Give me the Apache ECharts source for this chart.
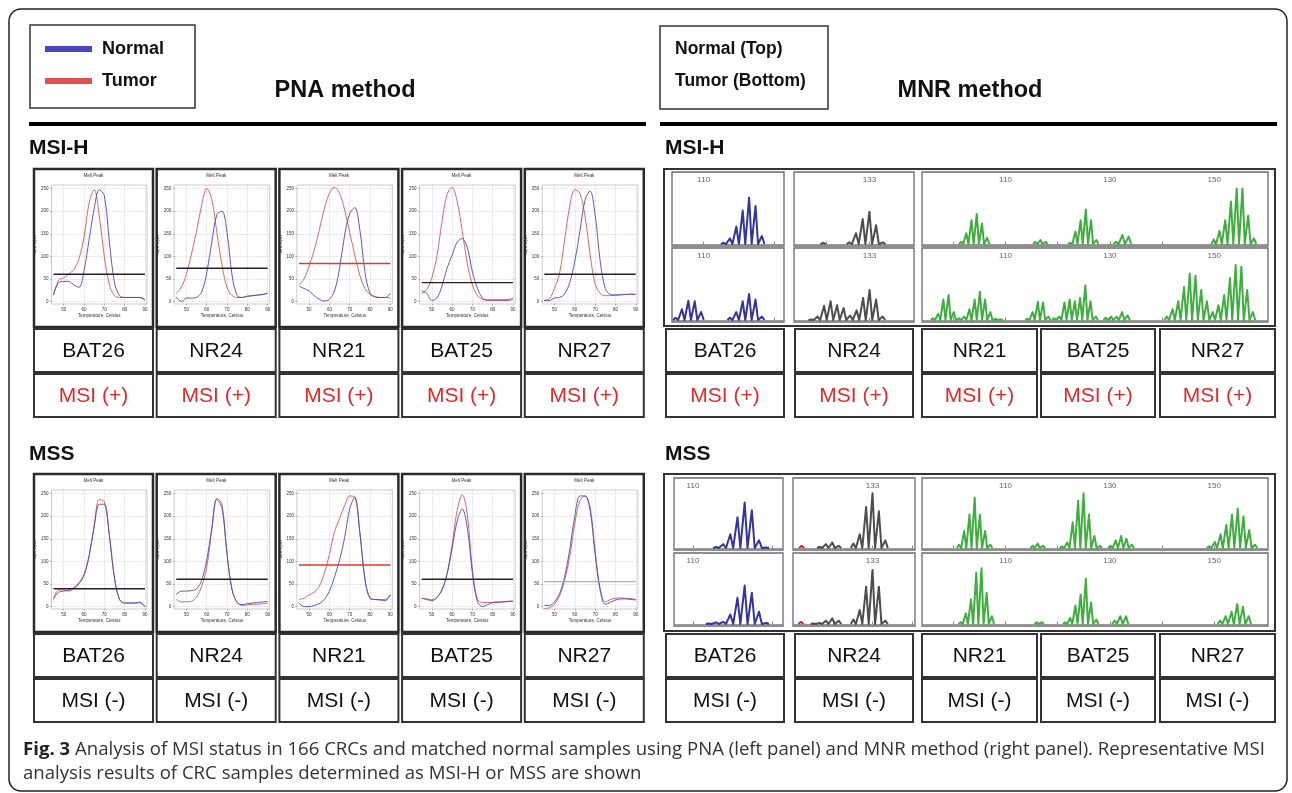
<!DOCTYPE html>
<html lang="en">
  <head>
    <meta charset="UTF-8" />
    <title>Fig. 3 MSI status</title>
    <style>
      html, body { margin: 0; padding: 0; background: #fff; }
      #main { width: 1292px; height: 793px; }
    </style>
  </head>
  <body>
    <div id="main"></div>
    <script src="https://cdn.jsdelivr.net/npm/echarts@6.0.0/dist/echarts.min.js"></script>
    <script>
      // ---------- data ----------
      const markers = ["BAT26", "NR24", "NR21", "BAT25", "NR27"];
      const msihStatus = "MSI (+)";
      const mssStatus = "MSI (-)";

      // PNA melt curves: temperature grid and -dF/dT (as % of plot height)
      const meltTemp = [45, 47.5, 50, 52.5, 55, 57.5, 60, 62.5, 65, 67.5, 70, 72.5, 75, 77.5, 80, 82.5, 85, 87.5, 90];
      const meltTempTicks = [50, 60, 70, 80, 90];
      const meltYTicks = [2, 21, 40, 59, 78, 97];
      const meltYLabels = ["0", "50", "100", "150", "200", "250"];

      const pnaMsihNormal = [
        [8, 18, 19, 19, 16, 14, 28, 54, 80, 96, 91, 52, 18, 7, 5.5, 5.5, 5.5, 5.5, 3],
        [6, 2, 5, 5, 5.6, 10, 26, 52, 75, 78, 60, 24, 7, 5.5, 6.5, 7, 7.5, 8, 9],
        [15, 13, 11, 7, 4, 2.5, 4, 11, 30, 58, 76, 81, 62, 27, 9, 6, 5.5, 5.5, 9],
        [11, 9, 3, 5, 15, 30, 41, 52, 55, 47, 27, 13, 5, 3.5, 3.5, 3.5, 3.5, 3.5, 5],
        [3, 3, 5, 5.5, 8.5, 18, 36, 61, 87, 95, 75, 36, 13, 8, 7.5, 7.7, 8, 8.3, 8]
      ];
      const pnaMsihTumor = [
        [7, 20, 22, 25, 29, 38, 56, 85, 96, 74, 40, 16, 7, 5.5, 5.5, 5.5, 5.5, 5.5, 4],
        [9, 14, 25, 42, 61, 83, 97, 88, 60, 33, 14, 7, 5.5, 5.5, 6.5, 7, 7.5, 8, 9],
        [16, 21, 32, 45, 62, 80, 93, 98, 93, 79, 60, 41, 24, 13, 8, 6, 5.5, 5.5, 5],
        [9, 12, 22, 40, 69, 92, 98, 86, 61, 34, 16, 7, 4, 3, 3, 3, 3, 3, 4],
        [3, 4.5, 13, 26, 54, 82, 96, 93, 74, 42, 17, 9, 7, 7, 7.5, 7.7, 8, 8.3, 8]
      ];
      const pnaMsihThreshold = [25, 30, 34, 18, 25];

      const pnaMssNormal = [
        [9, 14, 15, 16, 18, 22, 29, 45, 69, 88, 88, 61, 26, 8, 5, 5, 5, 5.5, 2],
        [12, 15, 15, 15.5, 17, 24, 41, 68, 92, 85, 46, 16, 5.5, 3.6, 4.5, 5, 5.5, 6, 6.3],
        [5, 2, 2, 3, 4.5, 8, 15, 27, 41, 60, 84, 94, 64, 25, 9, 8, 7.5, 7, 12],
        [9, 8, 7, 9.5, 16, 29, 51, 74, 84, 68, 30, 6, 2, 3.6, 5.5, 6, 6, 6.2, 6.3],
        [3, 3, 6, 13, 27, 50, 78, 95, 95, 83, 46, 15.5, 4, 5.6, 7.5, 8.5, 8.5, 8, 7.6]
      ];
      const pnaMssTumor = [
        [8, 16, 16, 15, 17, 21, 28, 44, 70, 92, 90, 62, 26, 8, 5, 5, 5, 5.5, 2],
        [8, 6, 6, 6.5, 10, 19, 35, 66, 93, 88, 46, 16, 5.5, 3, 3.5, 4, 4, 4.5, 5],
        [8, 9, 12, 14, 19, 30, 46, 65, 76, 87, 95, 94, 64, 25, 9, 8, 8, 8, 12],
        [9, 8.5, 8, 10, 16, 30, 54, 83, 96, 79, 33, 8, 5.5, 5.5, 5.5, 5.5, 6, 6.5, 7],
        [0.5, 1, 4, 11, 24, 44, 72, 91, 95, 86, 49, 17, 6, 8, 9, 9.3, 9, 8.7, 8]
      ];
      const pnaMssThreshold = [17, 25, 37, 25, 23];

      // MNR fragment analysis: axis ranges (size units), tick marks, labelled ticks
      const mnrRange = {
        msih: [[105.2, 122.4], [121.9, 139.5], [94.2, 160.1]],
        mss: [[107.5, 122.4], [120.7, 139.5], [94.2, 160.1]]
      };
      const mnrTicks = {
        msih: [[110, 121], [126.6, 133], [100, 110, 120, 130, 140, 150]],
        mss: [[110, 121], [126.8, 133, 139.3], [100, 110, 120, 130, 140, 150]]
      };
      const mnrTickLabels = {
        msih: [[110], [133], [110, 130, 150]],
        mss: [[110], [133], [110, 130, 150]]
      };

      // peak groups: [first position, spacing, heights in % of panel]
      const mnrMsihBat26 = {
        top: [[113.1, 1, [2, 10, 31, 59, 82, 67, 14]]],
        bottom: [[105.6, 1, [4, 19, 34, 33, 14]], [114.1, 1, [4, 14, 33, 46, 36, 6]]]
      };
      const mnrMsihNr24 = {
        top: [[126.1, 1, [2]], [130, 1, [3, 19, 44, 57, 33, 3]]],
        bottom: [[124.3, 0.97, [1, 6, 25, 33, 26, 21, 8, 17, 39, 53, 36, 6]]]
      };
      const mnrMsihPanel = {
        top: [[101.5, 1, [4, 19, 42, 53, 36, 11]], [115.7, 1, [4, 7, 4]], [122.4, 1, [2, 22, 42, 61, 42, 7]],
              [131.2, 1.2, [4, 16, 13]], [149.9, 1.1, [8, 23, 42, 75, 98, 98, 50, 10]]],
        bottom: [[96.1, 1, [3, 11, 36, 44, 14, 3, 6, 19, 36, 50, 36, 14, 2, 1]], [114.2, 1, [2, 14, 32, 31, 6]],
                 [119.3, 1, [3, 6, 31, 36, 33, 39, 61, 33, 6]], [129.2, 1.05, [4, 6, 6, 14, 8]],
                 [140.9, 1.1, [6, 19, 33, 58, 82, 78, 53, 33, 14, 26, 44, 74, 97, 94, 53, 14]]]
      };
      const mnrMssBat26 = {
        top: [[113.2, 1, [2, 7, 25, 56, 83, 69, 14, 1]]],
        bottom: [[112.2, 1, [1, 3, 4, 17, 47, 69, 56, 22, 2]]]
      };
      const mnrMssNr24 = {
        top: [[124.7, 1, [2, 7, 10, 4]], [130, 1, [8, 25, 75, 100, 67, 14]]],
        bottom: [[123.7, 1, [1, 2, 6, 10, 6]], [130, 1, [8, 25, 67, 97, 67, 6]]]
      };
      const mnrMssNr24Marker = { top: [[121.9, 1, [4]]], bottom: [[121.8, 1, [4]]] };
      const mnrMssPanel = {
        top: [[101.1, 1, [6, 31, 61, 92, 61, 31, 6]], [115.2, 1, [4, 8, 4]], [120.8, 1.04, [3, 10, 47, 86, 100, 61, 22, 4]],
              [130.1, 1.03, [4, 14, 22, 17, 6]], [149, 1.1, [3, 11, 25, 42, 61, 72, 58, 33, 6]]],
        bottom: [[101.4, 1, [3, 19, 44, 92, 100, 56, 14]], [115.95, 1, [3, 3]], [121.4, 1, [3, 11, 33, 53, 81, 39, 8]],
                 [130.9, 1.1, [6, 14, 14]], [151.1, 1.1, [6, 14, 22, 36, 31, 14]]]
      };

      // ---------- build ----------
      const myChart = echarts.init(document.getElementById("main"));
      const FONT = '"Liberation Sans", Arial, sans-serif';
      const BLUE = "#4747c2";
      const RED = "#e25151";
      const grids = [], xAxes = [], yAxes = [], series = [], graphics = [];

      function rect(x, y, w, h, stroke, lw, r) {
        graphics.push({ type: "rect", silent: true, z: 10,
          shape: { x: x, y: y, width: w, height: h, r: r || 0 },
          style: { fill: "rgba(0,0,0,0)", stroke: stroke, lineWidth: lw } });
      }
      function text(x, y, str, size, opt) {
        graphics.push({ type: "text", silent: true, z: 10, x: x, y: y,
          style: Object.assign({ text: str, fill: "#111", fontFamily: FONT, fontSize: size,
            align: "left", verticalAlign: "middle" }, opt || {}) });
      }
      function hline(x1, x2, y, lw) {
        graphics.push({ type: "line", silent: true, z: 10,
          shape: { x1: x1, y1: y, x2: x2, y2: y }, style: { stroke: "#000", lineWidth: lw } });
      }

      // frame, headers
      rect(9, 9, 1278, 782, "#222", 1.5, 12);
      rect(30, 25, 165, 83, "#333", 1.5);
      rect(660, 26, 168, 83, "#333", 1.5);
      text(675, 49, "Normal (Top)", 17.5, { fontWeight: "bold" });
      text(675, 81, "Tumor (Bottom)", 17.5, { fontWeight: "bold" });
      text(345, 91, "PNA method", 23.5, { fontWeight: "bold", align: "center" });
      text(970, 91, "MNR method", 23.5, { fontWeight: "bold", align: "center" });
      hline(29, 646, 124, 4);
      hline(660, 1277, 124, 4);
      text(29, 148, "MSI-H", 21, { fontWeight: "bold" });
      text(665, 148, "MSI-H", 21, { fontWeight: "bold" });
      text(29, 454, "MSS", 21, { fontWeight: "bold" });
      text(665, 454, "MSS", 21, { fontWeight: "bold" });

      // ---- PNA melt-peak panels ----
      function addMelt(row, i, normal, tumor, thr, thrColor) {
        const bx = 34 + i * 122.7, by = row ? 474 : 169, bw = 119, bh = 158;
        const gi = grids.length;
        grids.push({ left: bx + 17.5, top: by + 16, width: bw - 23.5, height: bh - 39,
          show: true, borderColor: "#aaa", borderWidth: 0.6 });
        xAxes.push({ gridIndex: gi, type: "value", min: 44, max: 91,
          name: "Temperature, Celsius", nameLocation: "middle", nameGap: 9,
          nameTextStyle: { fontSize: 4.5, color: "#333", fontFamily: FONT },
          axisLine: { show: false },
          axisTick: { customValues: meltTempTicks, length: 1.5, lineStyle: { color: "#666", width: 0.5 } },
          axisLabel: { customValues: meltTempTicks, fontSize: 4.5, margin: 3, color: "#333" },
          splitLine: { show: true, lineStyle: { type: "dashed", color: "#c8c8c8", width: 0.5 } } });
        yAxes.push({ gridIndex: gi, type: "value", min: 0, max: 100,
          name: "-d(RFU)/dT", nameLocation: "middle", nameGap: 11, nameRotate: 90,
          nameTextStyle: { fontSize: 4, color: "#333", fontFamily: FONT },
          axisLine: { show: false },
          axisTick: { customValues: meltYTicks, length: 1.5, lineStyle: { color: "#666", width: 0.5 } },
          axisLabel: { customValues: meltYTicks, fontSize: 4.5, margin: 3, color: "#333",
            formatter: function (v) { return meltYLabels[meltYTicks.indexOf(v)] || ""; } },
          splitLine: { show: true, lineStyle: { type: "dashed", color: "#c8c8c8", width: 0.5 } } });
        const common = { type: "line", xAxisIndex: gi, yAxisIndex: gi, smooth: 0.35, symbol: "none",
          silent: true, animation: false };
        series.push(Object.assign({}, common, { name: "Tumor", color: RED,
          lineStyle: { color: RED, width: 0.9 }, data: meltTemp.map((t, k) => [t, tumor[k]]) }));
        series.push(Object.assign({}, common, { name: "Normal", color: BLUE,
          lineStyle: { color: BLUE, width: 0.9 }, data: meltTemp.map((t, k) => [t, normal[k]]) }));
        series.push(Object.assign({}, common, { name: "threshold", smooth: false, color: thrColor,
          lineStyle: { color: thrColor, width: 1.4 }, data: [[45, thr], [90, thr]] }));
        rect(bx, by, bw, bh, "#2a2a2a", 2.5);
        text(bx + bw / 2, by + 7, "Melt Peak", 4.5, { align: "center", fill: "#333" });
      }
      const thrColors = {
        msih: ["#222", "#222", "#d83a3a", "#222", "#222"],
        mss: ["#222", "#222", "#d83a3a", "#222", "#8fb4dc"]
      };
      markers.forEach(function (m, i) {
        addMelt(0, i, pnaMsihNormal[i], pnaMsihTumor[i], pnaMsihThreshold[i], thrColors.msih[i]);
        addMelt(1, i, pnaMssNormal[i], pnaMssTumor[i], pnaMssThreshold[i], thrColors.mss[i]);
      });

      // ---- MNR electropherogram panels ----
      function peakPoints(groups) {
        const pts = [];
        groups.forEach(function (g) {
          const start = g[0], step = g[1], hs = g[2];
          hs.forEach(function (h, k) {
            const p = start + k * step;
            pts.push([p - 0.4 * step, 0], [p, h], [p + 0.4 * step, 0]);
          });
          pts.push(["-", "-"]);
        });
        return pts;
      }
      const mnrLayout = {
        msih: { outer: [664, 169, 611, 157], cols: [[672, 112], [794, 120], [922, 346]], rows: [[172, 74], [248, 74]] },
        mss: { outer: [664, 474, 611, 157], cols: [[674, 109], [793, 122], [922, 346]], rows: [[478, 72], [553, 73]] }
      };
      const mnrColors = ["#34349e", "#4d4d4d", "#3fae3f"];
      const mnrData = {
        msih: [mnrMsihBat26, mnrMsihNr24, mnrMsihPanel],
        mss: [mnrMssBat26, mnrMssNr24, mnrMssPanel]
      };
      ["msih", "mss"].forEach(function (key) {
        const L = mnrLayout[key];
        L.cols.forEach(function (col, c) {
          L.rows.forEach(function (rw, r) {
            const part = r === 0 ? "top" : "bottom";
            const gi = grids.length;
            grids.push({ left: col[0] + 1, top: rw[0] + 13, width: col[1] - 2, height: rw[1] - 15 });
            const ticks = mnrTicks[key][c], labs = mnrTickLabels[key][c];
            xAxes.push({ gridIndex: gi, type: "value", position: "top",
              min: mnrRange[key][c][0], max: mnrRange[key][c][1],
              axisLine: { show: true, lineStyle: { color: "#9a9a9a", width: 1 } },
              axisTick: { customValues: ticks, length: 2.5, inside: false, lineStyle: { color: "#888", width: 1 } },
              axisLabel: { customValues: labs, fontSize: 8, margin: 1.5, color: "#666", fontFamily: FONT,
                formatter: function (v) { return String(Math.round(v)); } },
              splitLine: { show: false } });
            yAxes.push({ gridIndex: gi, type: "value", min: 0, max: 104, show: false });
            series.push({ type: "line", name: "peaks", xAxisIndex: gi, yAxisIndex: gi, symbol: "none",
              silent: true, animation: false, connectNulls: false,
              lineStyle: { color: mnrColors[c], width: 2, join: "round" },
              data: peakPoints(mnrData[key][c][part]) });
            if (key === "mss" && c === 1) {
              series.push({ type: "line", name: "marker", xAxisIndex: gi, yAxisIndex: gi, symbol: "none",
                silent: true, animation: false, lineStyle: { color: "#e02020", width: 2 },
                data: peakPoints(mnrMssNr24Marker[part]) });
            }
            rect(col[0], rw[0], col[1], rw[1], "#6a6a6a", 1.3);
          });
        });
        rect(L.outer[0], L.outer[1], L.outer[2], L.outer[3], "#333", 2);
      });

      // ---- marker / status boxes ----
      const leftCols = markers.map(function (m, i) { return [34 + i * 122.7, 119]; });
      const rightCols = [[666, 118], [795, 118], [922, 115], [1041, 114], [1160, 115]];
      [[329, 374, msihStatus, "#e02a2a"], [634, 679, mssStatus, "#111"]].forEach(function (rowDef) {
        [leftCols, rightCols].forEach(function (cols) {
          cols.forEach(function (col, i) {
            rect(col[0], rowDef[0], col[1], 43, "#333", 2);
            rect(col[0], rowDef[1], col[1], 43, "#333", 2);
            text(col[0] + col[1] / 2, rowDef[0] + 22, markers[i], 21, { align: "center" });
            text(col[0] + col[1] / 2, rowDef[1] + 22, rowDef[2], 21, { align: "center", fill: rowDef[3] });
          });
        });
      });

      // ---- caption ----
      const capFont = '"Open Sans", "Noto Sans", sans-serif';
      graphics.push({ type: "text", silent: true, x: 23, y: 750, style: {
        text: "{b|Fig. 3} Analysis of MSI status in 166 CRCs and matched normal samples using PNA (left panel) and MNR method (right panel). Representative MSI",
        fontFamily: capFont, fontSize: 18.6, fill: "#333", verticalAlign: "middle",
        rich: { b: { fontFamily: capFont, fontSize: 18.6, fontWeight: "bold", fill: "#222" } } } });
      text(23, 774, "analysis results of CRC samples determined as MSI-H or MSS are shown", 18.6,
        { fontFamily: capFont, fill: "#333" });

      const option = {
        backgroundColor: "#fff",
        animation: false,
        legend: {
          data: ["Normal", "Tumor"], orient: "vertical", left: 45, top: 40, padding: 0,
          icon: "rect", itemWidth: 47, itemHeight: 6, itemGap: 14, selectedMode: false,
          textStyle: { fontFamily: FONT, fontWeight: "bold", fontSize: 18, color: "#111", padding: [0, 0, 0, 5] }
        },
        grid: grids,
        xAxis: xAxes,
        yAxis: yAxes,
        series: series,
        graphic: graphics
      };
      myChart.setOption(option);
    </script>
  </body>
</html>
